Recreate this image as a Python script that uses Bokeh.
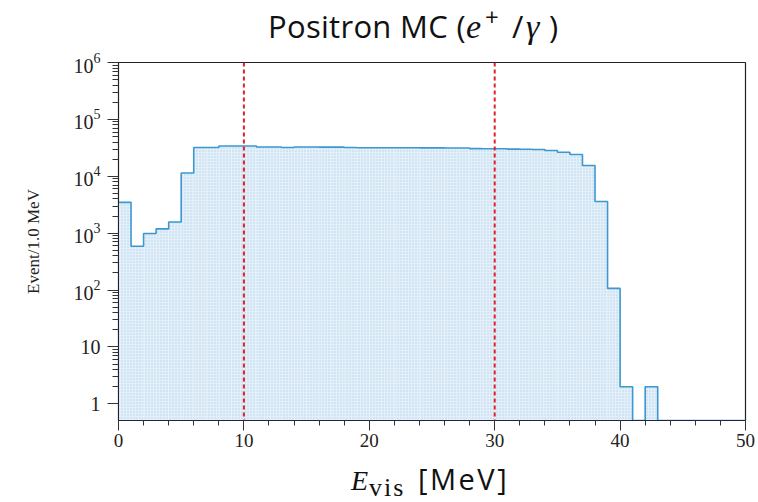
from bokeh.plotting import figure
from bokeh.models import (Range1d, FixedTicker, SingleIntervalTicker, LogTickFormatter,
                          Span, ColumnDataSource, Div)
from bokeh.layouts import column
from bokeh.embed import file_html
from bokeh.resources import INLINE

# ---- data (events per 1 MeV bin, 0..50 MeV) ----
bin_edges = list(range(0, 51))
counts = [3480, 590, 990, 1190, 1570, 11400, 32000, 32000, 34000, 34000,
          34000, 32800, 32800, 32000, 32700, 32700, 32600, 32500, 32000, 31800,
          31800, 31800, 31700, 31700, 31600, 31600, 31500, 31400, 30600, 30500,
          30500, 30000, 29800, 29600, 28400, 26500, 24200, 15500, 3600, 107,
          2, 0, 2, 0, 0, 0, 0, 0, 0, 0]
cut_lines = [10, 30]
y_major = [1, 10, 100, 1000, 10000, 100000, 1000000]

X_MIN, X_MAX = 0, 50
Y_MIN, Y_MAX = 0.51, 1e6

# ---- layout ----
W = 758
TITLE_H = 50
FIG_H = 405
XLAB_H = 502 - TITLE_H - FIG_H
L, R = 118, 745
FRAME_TOP, FRAME_BOTTOM = 62, 420

p = figure(width=W, height=FIG_H, y_axis_type="log",
           x_range=Range1d(X_MIN, X_MAX), y_range=Range1d(Y_MIN, Y_MAX),
           output_backend="svg", toolbar_location=None,
           min_border_left=L, min_border_right=W - R,
           min_border_top=FRAME_TOP - TITLE_H,
           min_border_bottom=TITLE_H + FIG_H - FRAME_BOTTOM)
p.margin = (0, 0, 0, 0)
p.background_fill_color = "white"
p.border_fill_color = "white"
p.outline_line_color = "#222222"
p.outline_line_width = 1.2
p.xgrid.visible = False
p.ygrid.visible = False

tops = [c if c > 0 else Y_MIN for c in counts]
src = ColumnDataSource(dict(left=bin_edges[:-1], right=bin_edges[1:], top=tops,
                            bottom=[Y_MIN] * len(counts)))
p.quad(left="left", right="right", top="top", bottom="bottom", source=src,
       fill_color="#e4f0f9", line_color=None,
       hatch_pattern="dot", hatch_color="#b2d2eb", hatch_scale=3, hatch_weight=1)

step_y = tops + [tops[-1]]
p.step(x=bin_edges, y=step_y, mode="after", line_color="#3d98d0", line_width=1.6)

for c in cut_lines:
    p.add_layout(Span(location=c, dimension="height", line_color="#e0202a",
                      line_dash="4 3", line_width=2))

# ---- axes ----
serif = "Liberation Serif"
xa = p.xaxis[0]
xa.ticker = SingleIntervalTicker(interval=10, num_minor_ticks=5)
xa.major_label_text_font = serif
xa.major_label_text_font_size = "19px"
xa.major_label_text_color = "#222222"
xa.major_label_standoff = 3
xa.major_tick_out = 10
xa.major_tick_in = 0
xa.minor_tick_out = 5
xa.minor_tick_in = 0
xa.axis_line_color = "#222244"
xa.major_tick_line_color = "#333333"
xa.minor_tick_line_color = "#333333"

ya = p.yaxis[0]
minor = [m * d for d in y_major[:-1] for m in range(2, 10)]
ya.ticker = FixedTicker(ticks=y_major, minor_ticks=minor)
ya.formatter = LogTickFormatter(min_exponent=2)
ya.major_label_text_font = serif
ya.major_label_text_font_size = "20px"
ya.major_label_text_color = "#222222"
ya.major_label_standoff = 7
ya.major_tick_out = 11
ya.major_tick_in = 0
ya.minor_tick_out = 6
ya.minor_tick_in = 0
ya.axis_line_color = "#222222"
ya.major_tick_line_color = "#333333"
ya.minor_tick_line_color = "#333333"
ya.axis_label = "Event/1.0 MeV"
ya.axis_label_text_font = serif
ya.axis_label_text_font_size = "17px"
ya.axis_label_text_font_style = "normal"
ya.axis_label_text_color = "#222222"
ya.axis_label_standoff = 28

# ---- title and x label as rich text ----
SERIF_CSS = "'Liberation Serif', serif"
SANS_CSS = "'Open Sans', sans-serif"

def piece(text, left, top, family, size, italic=False, spacing=0, lh=None):
    lh = size if lh is None else lh
    style = (f"position:absolute; left:{left}px; top:{top}px; white-space:nowrap; "
             f"font-family:{family}; font-size:{size}px; line-height:{lh}px; "
             f"letter-spacing:{spacing}px; color:#111;")
    if italic:
        style += " font-style:italic;"
    return f"<span style=\"{style}\">{text}</span>"

title_html = "".join([
    piece("Positron MC (", 268, 10.5, SANS_CSS, 31, spacing=0.3),
    piece("e", 466, 9.5, SERIF_CSS, 34, italic=True),
    piece("+", 485, 5, SANS_CSS, 24),
    piece("/", 512, 10.5, SANS_CSS, 31),
    piece("γ", 526, 9.5, SERIF_CSS, 34, italic=True),
    piece(")", 549, 10.5, SANS_CSS, 31),
])
title_div = Div(text=title_html, width=W, height=TITLE_H, margin=(0, 0, 0, 0),
                styles={"position": "relative", "background": "white"})

xlab_html = "".join([
    piece("E", 351, 11.5, SERIF_CSS, 28, italic=True),
    piece("vis", 369, 22.5, SERIF_CSS, 26, spacing=2, lh=20),
    piece("[MeV]", 418, 9.3, SANS_CSS, 29, spacing=2.5),
])
xlab_div = Div(text=xlab_html, width=W, height=XLAB_H, margin=(0, 0, 0, 0),
               styles={"position": "relative", "background": "white", "overflow": "hidden"})

layout = column(title_div, p, xlab_div, spacing=0, margin=(0, 0, 0, 0))
layout.styles = {"background": "white"}

open("out.html", "w").write(file_html(layout, INLINE))
